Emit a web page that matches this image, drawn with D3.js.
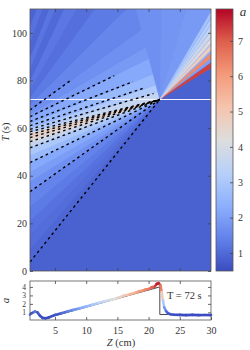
<!DOCTYPE html>
<html>
<head>
<meta charset="utf-8">
<script src="https://cdn.jsdelivr.net/npm/d3@7"></script>
<style>
	body{margin:0;background:#fff;}
	text{font-family:"Liberation Serif","DejaVu Serif",serif;fill:#333;}
</style>
</head>
<body>
<svg id="chart" width="250" height="350"></svg>
<script>
// colour map (coolwarm) and its range of a
const cmapStops  = [0, 0.125, 0.25, 0.375, 0.5, 0.625, 0.75, 0.875, 1];
const cmapColors = ["#3b4cc0","#6282ea","#8db0fe","#b8d0f9","#dddddd","#f5c4ad","#f49a7b","#de604d","#b40426"];
const aRange = [0.49, 7.9];
const curveRange = [0.7, 4.5];

// ticks
const zTicks = [5, 10, 15, 20, 25, 30];
const tTicks = [0, 20, 40, 60, 80, 100];
const cbTicks = [1, 2, 3, 4, 5, 6, 7];
const aTicks = [1, 2, 3, 4];

// breaking point and cut time
const focusZ = 21.8, focusT = 72;
const cutT = 72;
const restValue = 0.85;      // a ahead of the front
const shockEdgeT = 85.2;     // front at right edge

// characteristics meeting at the focus (start T on the left edge, a carried)
const lowT0  = [3.8, 9, 15, 21, 27, 33.3, 37.5, 41.5, 45.5, 48.5, 51.7, 53.5, 55, 56.3, 57.5];
const lowVal = [0.95, 1.05, 1.15, 1.3, 1.45, 1.7, 1.95, 2.2, 2.6, 3.0, 3.5, 4.0, 4.5, 4.7];

// later characteristics (left edge start -> end point)
const upT0   = [57.5, 58.5, 60, 62, 64.5, 66, 67.6, 70, 73, 76, 80, 85, 90, 96, 103, 110];
const upEndZ = [21.8, 30, 30, 30, 30, 30, 23.3, 16.4, 11.3, 8.4, 6.4, 5.0, 4.0, 3.0, 2.0, 1];
const upEndT = [72, 82.3, 86.1, 92.5, 102.2, 110, 110, 110, 110, 110, 110, 110, 110, 110, 110, 110];
const upVal  = [3.6, 3.1, 2.6, 2.2, 1.9, 1.7, 1.5, 1.3, 1.1, 1.25, 1.0, 1.2, 0.95, 1.15, 0.9];

// fan behind the front (edge points seen from the focus)
const fanZ   = [30, 30, 30, 30, 30, 30, 30, 30, 30, 26, 22, 18];
const fanT   = [85.2, 88, 91.5, 95, 98, 101, 104, 107, 110, 110, 110, 110];
const fanVal = [1.5, 2.0, 2.3, 2.4, 2.4, 2.3, 2.2, 2.0, 1.9, 1.8, 1.7];

// solitary wave tracks (T at right edge, amplitude)
const beamT   = [86.3, 90.4, 93.8, 96.7, 99.4, 102.1, 104.9, 107.7];
const beamVal = [7.3, 6.3, 4.8, 4.3, 3.9, 3.5, 3.2, 2.9];

// dashed characteristics
const convT0    = [3.8, 33.3, 45.5, 51.7, 54.3, 56, 57.3, 58.5];
const openT0    = [59.5, 61, 62.8, 64.8, 67.6];
const openStopZ = [20.8, 19.5, 17.5, 14.5, 7.6];
const openStopT = [74.5, 77, 79.5, 82, 80.2];

// profile at T = 72 s
const curveZ = [1, 1.4, 1.8, 2.2, 2.6, 3.0, 3.5, 4, 5, 6, 7, 8, 9, 10, 11, 12, 13, 14, 15, 16, 17, 18, 18.5, 19, 19.5, 20, 20.5, 21, 21.3, 21.6, 21.9, 22.1, 22.3, 22.5, 22.8, 23.1, 23.5, 24, 25, 26, 27, 28, 29, 30];
const curveA = [0.75, 0.95, 1.1, 1.0, 0.6, 0.35, 0.3, 0.4, 0.7, 0.9, 1.1, 1.3, 1.5, 1.7, 1.9, 2.1, 2.3, 2.5, 2.7, 2.95, 3.15, 3.35, 3.5, 3.55, 3.7, 3.75, 3.95, 4.05, 4.35, 4.45, 4.2, 3.4, 2.4, 1.6, 1.15, 0.9, 0.78, 0.72, 0.7, 0.68, 0.7, 0.68, 0.69, 0.68];
const theoryZ = [4.5, 21.8, 21.8, 23.8];
const theoryA = [0.5, 4.0, 0.75, 0.75];

const svg = d3.select("#chart");
const main = {left: 30, right: 211, top: 9, bottom: 271};
const low  = {left: 30, right: 211, top: 281, bottom: 320};
const cbar = {left: 216, right: 233};

const x = d3.scaleLinear().domain([1, 30]).range([main.left, main.right]);
const y = d3.scaleLinear().domain([0, 110]).range([main.bottom, main.top]);
const yb = d3.scaleLinear().domain([0.1, 4.7]).range([low.bottom, low.top]);
const yc = d3.scaleLinear().domain(aRange).range([main.bottom, main.top]);

const color = d3.scaleLinear()
	.domain(cmapStops.map(s => aRange[0] + s * (aRange[1] - aRange[0])))
	.range(cmapColors).clamp(true);
const curveColor = d3.scaleLinear()
	.domain(cmapStops.map(s => curveRange[0] + s * (curveRange[1] - curveRange[0])))
	.range(cmapColors).clamp(true);

const line = d3.line().x(d => x(d[0])).y(d => y(d[1]));
const F = [focusZ, focusT];

svg.append("clipPath").attr("id", "clipMain")
	.append("rect")
	.attr("x", main.left).attr("y", main.top)
	.attr("width", main.right - main.left).attr("height", main.bottom - main.top);

const g = svg.append("g").attr("clip-path", "url(#clipMain)");

function patch(pts, v){
	g.append("path")
		.attr("d", line(pts) + "Z")
		.attr("fill", color(v))
		.attr("stroke", color(v))
		.attr("stroke-width", 0.6);
}

// background
patch([[1, 0], [30, 0], [30, 110], [1, 110]], restValue);

// later characteristics
for (let i = 0; i < upVal.length; i++) {
	patch([[1, upT0[i]], [upEndZ[i], upEndT[i]], [upEndZ[i + 1], upEndT[i + 1]], [1, upT0[i + 1]]], upVal[i]);
}
// fan behind the front
for (let i = 0; i < fanVal.length; i++) {
	patch([F, [fanZ[i], fanT[i]], [fanZ[i + 1], fanT[i + 1]]], fanVal[i]);
}
// region not yet reached
patch([F, [30, shockEdgeT], [30, 0], [1, 0], [1, lowT0[0]]], restValue);

// converging fan
for (let i = 0; i < lowVal.length; i++) {
	patch([[1, lowT0[i]], [1, lowT0[i + 1]], F], lowVal[i]);
}
// solitary wave tracks
beamT.forEach((t, i) => {
	g.append("path")
		.attr("d", line([F, [30, t - 1.05], [30, t + 1.05]]) + "Z")
		.attr("fill", color(beamVal[i]))
		.attr("stroke", color(beamVal[i]))
		.attr("stroke-width", 0.4);
});

// cut line
g.append("line")
	.attr("x1", main.left).attr("x2", main.right)
	.attr("y1", y(cutT)).attr("y2", y(cutT))
	.attr("stroke", "#f4f4ff").attr("stroke-width", 1.2);

// dashed characteristics
convT0.forEach(t0 => {
	g.append("path").attr("d", line([[1, t0], F]))
		.attr("fill", "none").attr("stroke", "#000")
		.attr("stroke-width", 1.4).attr("stroke-dasharray", "2.6,3.2");
});
openT0.forEach((t0, i) => {
	g.append("path").attr("d", line([[1, t0], [openStopZ[i], openStopT[i]]]))
		.attr("fill", "none").attr("stroke", "#000")
		.attr("stroke-width", 1.4).attr("stroke-dasharray", "2.6,3.2");
});

// main frame and axes
svg.append("rect")
	.attr("x", main.left).attr("y", main.top)
	.attr("width", main.right - main.left).attr("height", main.bottom - main.top)
	.attr("fill", "none").attr("stroke", "#555").attr("stroke-width", 0.8);

function styleAxis(sel){
	sel.select(".domain").remove();
	sel.selectAll(".tick line").attr("stroke", "#444").attr("stroke-width", 0.8);
	sel.selectAll(".tick text").style("font-family", '"Liberation Serif",serif')
		.style("font-size", "10px").attr("fill", "#333");
}
const zInner = zTicks.filter(d => d < 30);
const fmt = d3.format("d");

svg.append("g").attr("transform", `translate(${main.left},0)`)
	.call(d3.axisLeft(y).tickValues(tTicks).tickFormat(fmt).tickSize(-3).tickPadding(3)).call(styleAxis);
svg.append("g").attr("transform", `translate(${main.right},0)`)
	.call(d3.axisRight(y).tickValues(tTicks).tickSize(-3).tickFormat("")).call(styleAxis);
svg.append("g").attr("transform", `translate(0,${main.top})`)
	.call(d3.axisTop(x).tickValues(zInner).tickSize(-3).tickFormat("")).call(styleAxis);
svg.append("g").attr("transform", `translate(0,${main.bottom})`)
	.call(d3.axisBottom(x).tickValues(zInner).tickSize(-3).tickFormat("")).call(styleAxis);

svg.append("text")
	.attr("transform", `translate(9,${(main.top + main.bottom) / 2 - 8}) rotate(-90)`)
	.attr("text-anchor", "middle").style("font-size", "10px")
	.html('<tspan font-style="italic">T</tspan> (s)');

// colour bar
const grad = svg.append("defs").append("linearGradient")
	.attr("id", "cbGrad").attr("x1", 0).attr("x2", 0).attr("y1", 1).attr("y2", 0);
cmapStops.forEach((s, i) => {
	grad.append("stop").attr("offset", s).attr("stop-color", cmapColors[i]);
});
svg.append("rect")
	.attr("x", cbar.left).attr("y", main.top)
	.attr("width", cbar.right - cbar.left).attr("height", main.bottom - main.top)
	.attr("fill", "url(#cbGrad)").attr("stroke", "#555").attr("stroke-width", 0.8);
svg.append("g").attr("transform", `translate(${cbar.right},0)`)
	.call(d3.axisRight(yc).tickValues(cbTicks).tickFormat(fmt).tickSize(-3).tickPadding(5)).call(styleAxis);
svg.append("text")
	.attr("x", 243).attr("y", 16).attr("text-anchor", "middle")
	.style("font-size", "13px").style("font-style", "italic").text("a");

// lower panel: profile at the cut
const xb = x;
svg.append("rect")
	.attr("x", low.left).attr("y", low.top)
	.attr("width", low.right - low.left).attr("height", low.bottom - low.top)
	.attr("fill", "#fff").attr("stroke", "#555").attr("stroke-width", 0.8);

const lineB = d3.line().x(d => xb(d[0])).y(d => yb(d[1]));
svg.append("path")
	.attr("d", lineB(theoryZ.map((z, i) => [z, theoryA[i]])))
	.attr("fill", "none").attr("stroke", "#333").attr("stroke-width", 0.9);

for (let i = 0; i < curveZ.length - 1; i++) {
	svg.append("line")
		.attr("x1", xb(curveZ[i])).attr("y1", yb(curveA[i]))
		.attr("x2", xb(curveZ[i + 1])).attr("y2", yb(curveA[i + 1]))
		.attr("stroke", curveColor((curveA[i] + curveA[i + 1]) / 2))
		.attr("stroke-width", 2.6).attr("stroke-linecap", "round");
}

svg.append("g").attr("transform", `translate(0,${low.bottom})`)
	.call(d3.axisBottom(xb).tickValues(zTicks).tickFormat(fmt).tickSize(-3).tickPadding(7)).call(styleAxis);
svg.append("g").attr("transform", `translate(0,${low.top})`)
	.call(d3.axisTop(xb).tickValues(zInner).tickSize(-3).tickFormat("")).call(styleAxis);
svg.append("g").attr("transform", `translate(${low.left},0)`)
	.call(d3.axisLeft(yb).tickValues(aTicks).tickFormat(fmt).tickSize(-3).tickPadding(4)).call(styleAxis)
	.selectAll(".tick text").style("font-size", "7.5px");
svg.append("g").attr("transform", `translate(${low.right},0)`)
	.call(d3.axisRight(yb).tickValues(aTicks).tickSize(-3).tickFormat("")).call(styleAxis);

svg.append("text")
	.attr("transform", `translate(9,${(low.top + low.bottom) / 2}) rotate(-90)`)
	.attr("text-anchor", "middle").style("font-size", "11px").style("font-style", "italic").text("a");
svg.append("text")
	.attr("x", 121).attr("y", 346).attr("text-anchor", "middle").style("font-size", "10.5px")
	.html('<tspan font-style="italic">Z</tspan> (cm)');
svg.append("text")
	.attr("x", 167).attr("y", 298.5).style("font-size", "10.5px").attr("xml:space", "preserve")
	.text("T = 72 s");
</script>
</body>
</html>
